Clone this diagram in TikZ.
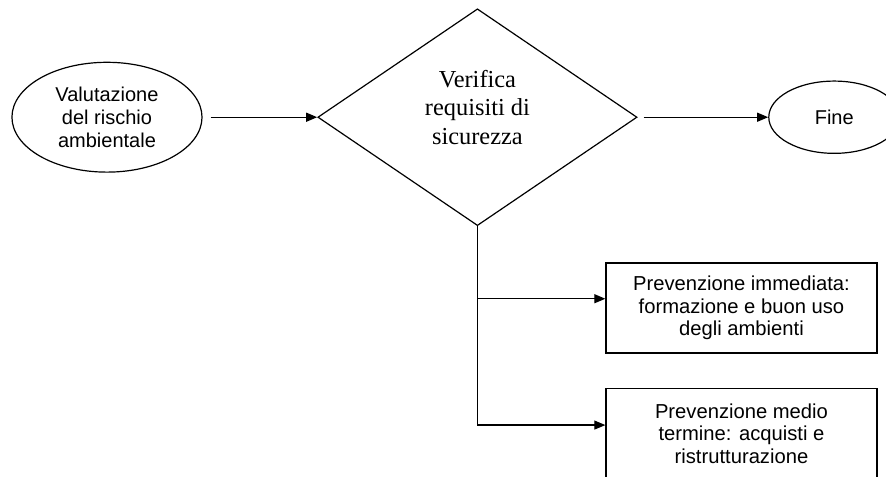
\documentclass[tikz,border=0pt]{standalone}
\usepackage{fontspec}
\setmainfont{Liberation Serif}
\setsansfont{Liberation Sans}
\usetikzlibrary{arrows.meta, positioning, shapes.geometric, calc}

\tikzset{
  ovale/.style={ellipse, draw, line width=0.6pt, inner sep=0pt, align=center,
    font=\sffamily\fontsize{10}{11.4}\selectfont},
  rombo/.style={diamond, draw, line width=0.6pt, inner sep=0pt, minimum width=5.61cm,
    minimum height=3.81cm, align=center, text depth=10pt,
    font=\fontsize{12.2}{14.2}\selectfont},
  riquadro/.style={rectangle, draw, line width=0.7pt, minimum width=4.76cm,
    minimum height=1.58cm, inner sep=0pt, align=center,
    font=\sffamily\fontsize{10.1}{11.2}\selectfont},
  freccia/.style={-{Triangle[length=5.5pt,width=4.5pt]}, line width=0.6pt},
}

\begin{document}
\begin{tikzpicture}
        \useasboundingbox (0,0) rectangle (15.57,8.38);
        % nodi principali
        \node[ovale, minimum width=3.34cm, minimum height=1.93cm] (valutazione) at (1.88,6.32) {Valutazione\\del rischio\\ambientale};
        \node[rombo] (verifica) at (8.39,6.32) {Verifica\\requisiti di\\sicurezza};
        \node[ovale, minimum width=2.3cm, minimum height=1.27cm] (fine) at (14.66,6.32) {Fine};
        % prevenzione
        \node[riquadro] (immediata) at (13.03,2.97) {Prevenzione immediata:\\formazione e buon uso\\degli ambienti};
        \node[riquadro] (medio) at (13.03,0.76) {Prevenzione medio\\termine: acquisti e\\ristrutturazione};
        % collegamenti
        \draw[freccia, shorten <=4pt] (valutazione) -- (verifica);
        \draw[freccia, shorten <=3pt] (verifica) -- (fine);
        \coordinate (ramo1) at (verifica.south |- 0,3.13);
        \coordinate (ramo2) at (verifica.south |- 0,0.91);
        \draw[line width=0.6pt] (verifica.south) -- (ramo2);
        \draw[freccia] (ramo1) -- (ramo1 -| immediata.west);
        \draw[freccia] (ramo2) -- (ramo2 -| medio.west);
\end{tikzpicture}
\end{document}
